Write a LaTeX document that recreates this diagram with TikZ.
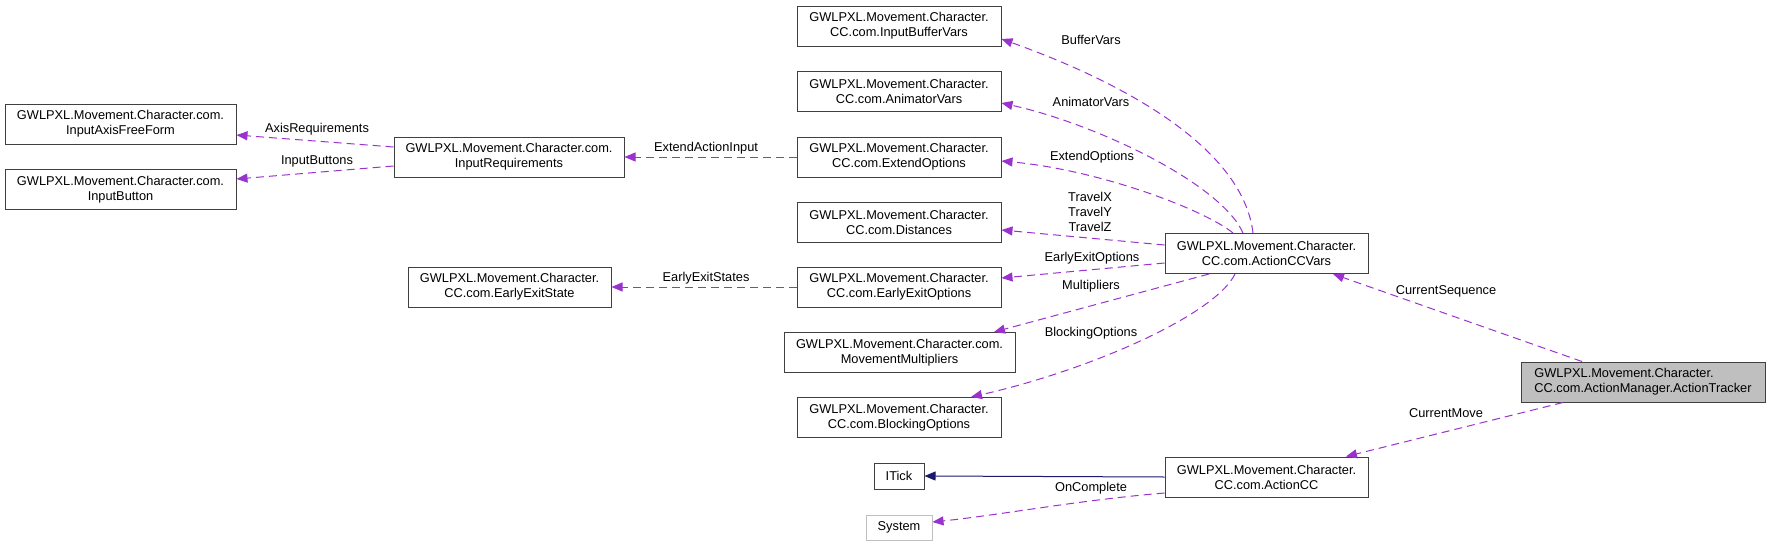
\documentclass[tikz,border=0pt]{standalone}
\usepackage{fontspec}
\setmainfont{Liberation Sans}
\usepackage{tikz}
\usetikzlibrary{arrows.meta}
\definecolor{depviolet}{HTML}{9A32CD}
\definecolor{tickblue}{HTML}{191970}
\definecolor{boxgray}{HTML}{404040}
\definecolor{shadegray}{HTML}{BFBFBF}

\begin{document}
\begin{tikzpicture}[x=1pt, y=-1pt,
  every node/.style={font=\fontsize{12.8}{15}\selectfont, inner sep=0pt},
  classbox/.style={rectangle, draw=boxgray, line width=1pt, align=center, minimum width=204pt, minimum height=40pt},
  uses/.style={depviolet, line width=1pt, dash pattern=on 8pt off 5pt, -{Triangle[length=11pt,width=9pt]}},
  inherits/.style={tickblue, line width=1pt, -{Triangle[length=11pt,width=9pt]}},
  lbl/.style={text=black}]
\useasboundingbox (0,0) rectangle (1771,546);

% Left column
\node[classbox, minimum width=231pt] (axisFree) at (120.5,124) {GWLPXL.Movement.Character.com.\\InputAxisFreeForm};
\node[classbox, minimum width=231pt] (inputBtn) at (120.5,189.5) {GWLPXL.Movement.Character.com.\\InputButton};

% Second column
\node[classbox, minimum width=230pt] (inputReq) at (509,157) {GWLPXL.Movement.Character.com.\\InputRequirements};
\node[classbox, minimum width=203pt] (earlyState) at (509.5,287) {GWLPXL.Movement.Character.\\CC.com.EarlyExitState};

% Third column
\node[classbox] (bufferVars) at (899,26) {GWLPXL.Movement.Character.\\CC.com.InputBufferVars};
\node[classbox] (animVars) at (899,91) {GWLPXL.Movement.Character.\\CC.com.AnimatorVars};
\node[classbox] (extendOpts) at (899,157) {GWLPXL.Movement.Character.\\CC.com.ExtendOptions};
\node[classbox] (distances) at (899,222) {GWLPXL.Movement.Character.\\CC.com.Distances};
\node[classbox] (earlyOpts) at (899,287) {GWLPXL.Movement.Character.\\CC.com.EarlyExitOptions};
\node[classbox, minimum width=231pt] (moveMult) at (899.5,352.5) {GWLPXL.Movement.Character.com.\\MovementMultipliers};
\node[classbox] (blockOpts) at (899,417.5) {GWLPXL.Movement.Character.\\CC.com.BlockingOptions};
\node[classbox, minimum width=50pt, minimum height=26pt] (iTick) at (899,476) {ITick};
\node[classbox, draw=shadegray, minimum width=66pt, minimum height=25pt] (system) at (899,527.5) {System};

% Fourth column
\node[classbox, minimum width=203pt] (ccVars) at (1266.5,253.5) {GWLPXL.Movement.Character.\\CC.com.ActionCCVars};
\node[classbox, minimum width=203pt] (actionCC) at (1266.5,477) {GWLPXL.Movement.Character.\\CC.com.ActionCC};

% Tracker
\node[classbox, fill=shadegray, align=left, minimum width=244pt] (tracker) at (1643,382) {GWLPXL.Movement.Character.\\CC.com.ActionManager.ActionTracker};

% Input links
\draw[uses] ([yshift=10pt]inputReq.west) -- ([yshift=-11pt]axisFree.east);
\draw[uses] ([yshift=-9pt]inputReq.west) -- ([yshift=10.5pt]inputBtn.east);
\draw[uses] (extendOpts.west) -- (inputReq.east);
\draw[uses] (earlyOpts.west) -- (earlyState.east);
\node[lbl] (lAxisReq) at (317,129) {AxisRequirements};
\node[lbl] (lInputBtns) at (317,161) {InputButtons};
\node[lbl] (lExtendInput) at (706,148) {ExtendActionInput};
\node[lbl] (lEarlyStates) at (706,278) {EarlyExitStates};

% ActionCCVars links
\draw[uses] ([xshift=-13.5pt]ccVars.north) .. controls (1243,150) and (1130,85) .. ([yshift=-13pt]bufferVars.east);
\draw[uses] ([xshift=-23.5pt]ccVars.north) .. controls (1222,185) and (1100,125) .. ([yshift=-12pt]animVars.east);
\draw[uses] ([xshift=-33.5pt]ccVars.north) .. controls (1205,210) and (1100,170) .. ([yshift=-4pt]extendOpts.east);
\draw[uses] ([yshift=8.5pt]ccVars.west) -- ([yshift=-8pt]distances.east);
\draw[uses] ([yshift=-9.5pt]ccVars.west) -- ([yshift=9pt]earlyOpts.east);
\draw[uses] ([xshift=-57.5pt]ccVars.south) -- ([xshift=94.5pt]moveMult.north);
\draw[uses] ([xshift=-31.5pt]ccVars.south) .. controls (1215,315) and (1090,370) .. ([xshift=72pt]blockOpts.north);
\node[lbl] (lBufferVars) at (1091,40) {BufferVars};
\node[lbl] (lAnimVars) at (1091,102) {AnimatorVars};
\node[lbl] (lExtendOpts) at (1092,157) {ExtendOptions};
\node[lbl, align=center] (lTravel) at (1090,212) {TravelX\\TravelY\\TravelZ};
\node[lbl] (lEarlyOpts) at (1092,258) {EarlyExitOptions};
\node[lbl] (lMultipliers) at (1091,286) {Multipliers};
\node[lbl] (lBlocking) at (1091,333) {BlockingOptions};

% ActionCC links
\draw[inherits] (actionCC.west) -- (iTick.east);
\draw[uses] ([yshift=-16pt]actionCC.west) .. controls (1080,500) and (1000,515) .. ([yshift=5.5pt]system.east);
\node[lbl] (lOnComplete) at (1091,488) {OnComplete};

% Tracker links
\draw[uses] ([xshift=-61pt]tracker.north) -- ([xshift=66.5pt]ccVars.south);
\draw[uses] ([xshift=-80pt]tracker.south) -- ([xshift=79.5pt]actionCC.north);
\node[lbl] (lCurSeq) at (1446,291) {CurrentSequence};
\node[lbl] (lCurMove) at (1446,413) {CurrentMove};
\end{tikzpicture}
\end{document}
